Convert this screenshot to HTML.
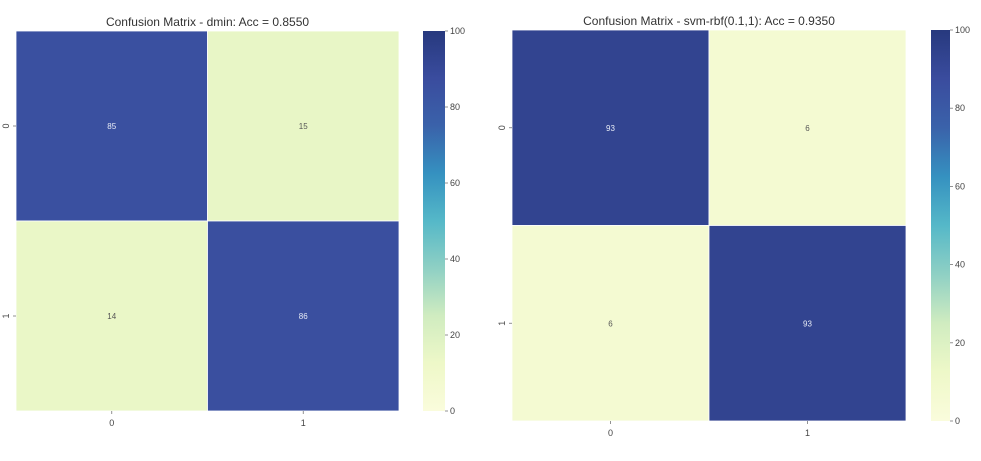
<!DOCTYPE html>
<html><head><meta charset="utf-8"><style>
html,body{margin:0;padding:0;background:#fff;}
svg text{font-family:"Liberation Sans",sans-serif;}
</style></head><body>
<svg id="c" width="981" height="456" xmlns="http://www.w3.org/2000/svg">
<defs><linearGradient id="cg" x1="0" y1="1" x2="0" y2="0"></linearGradient></defs>
</svg>
<script>
const classLabels = ["0","1"];
const matrixA = [[85,15],[14,86]];
const matrixB = [[93,6],[6,93]];
const titleA = "Confusion Matrix - dmin: Acc = 0.8550";
const titleB = "Confusion Matrix - svm-rbf(0.1,1): Acc = 0.9350";
const cbTicks = [0,20,40,60,80,100];
const stops = ["#fafcdc","#eef8c8","#d0ecc0","#8fd0c4","#55b8c8","#3591c0","#3a62aa","#3a4c9e","#27397e"];
const NS="http://www.w3.org/2000/svg";
const svg=document.getElementById('c');
function mk(t,a,p){const e=document.createElementNS(NS,t);for(const k in a)e.setAttribute(k,a[k]);(p||svg).appendChild(e);return e;}
function hex(h){return [1,3,5].map(i=>parseInt(h.substr(i,2),16));}
function cmap(v){let t=Math.max(0,Math.min(1,v/100))*(stops.length-1);let i=Math.min(Math.floor(t),stops.length-2);let f=t-i;const a=hex(stops[i]),b=hex(stops[i+1]);return 'rgb('+a.map((x,k)=>Math.round(x+(b[k]-x)*f)).join(',')+')';}
const g=svg.querySelector('#cg');
stops.forEach((s,i)=>mk('stop',{offset:(i/(stops.length-1)*100)+'%','stop-color':s},g));
function panel(m,title,x0,x1,y0,y1,cbx,cbw,name){
  const grp=mk('g',{});
  
  
  const n=classLabels.length,cw=(x1-x0)/n,ch=(y1-y0)/n;
  m.forEach((row,r)=>row.forEach((v,c)=>{
    const rect=mk('rect',{x:x0+c*cw,y:y0+r*ch,width:cw,height:ch,fill:cmap(v),stroke:'#fff','stroke-width':0.8},grp);
    
    
    const t=mk('text',{x:x0+(c+.5)*cw,y:y0+(r+.5)*ch+3,'text-anchor':'middle','font-size':8,fill:v>50?'#e8ecf6':'#555'},grp);
    t.textContent=v;
    
    
  }));
  classLabels.forEach((l,i)=>{
    const cx=x0+(i+.5)*cw;
    mk('line',{x1:cx,x2:cx,y1:y1,y2:y1+3,stroke:'#777','stroke-width':0.8},grp);
    const t=mk('text',{x:cx,y:y1+15,'text-anchor':'middle','font-size':9,fill:'#444'},grp);t.textContent=l;
    
    
    const cy=y0+(i+.5)*ch;
    mk('line',{x1:x0-3,x2:x0,y1:cy,y2:cy,stroke:'#777','stroke-width':0.8},grp);
    const u=mk('text',{x:x0-7,y:cy,'text-anchor':'middle','font-size':9,fill:'#444',transform:'rotate(-90 '+(x0-7)+' '+cy+')'},grp);u.textContent=l;
    
    
  });
  const tt=mk('text',{x:(x0+x1)/2,y:y0-5,'text-anchor':'middle','font-size':12,fill:'#333'},grp);tt.textContent=title;
  
  
  const cb=mk('rect',{x:cbx,y:y0,width:cbw,height:y1-y0,fill:'url(#cg)'},grp);
  
  
  cbTicks.forEach(v=>{
    const y=y1-(v/100)*(y1-y0);
    mk('line',{x1:cbx+cbw,x2:cbx+cbw+3,y1:y,y2:y,stroke:'#777','stroke-width':0.8},grp);
    const t=mk('text',{x:cbx+cbw+5,y:y+3,'font-size':9,fill:'#444'},grp);t.textContent=v;
    
    
  });
}
panel(matrixA,titleA,16,399,31,411,423,22,'confusion-matrix-dmin');
panel(matrixB,titleB,512,906,30,421,931,19,'confusion-matrix-svm');
</script>
</body></html>
